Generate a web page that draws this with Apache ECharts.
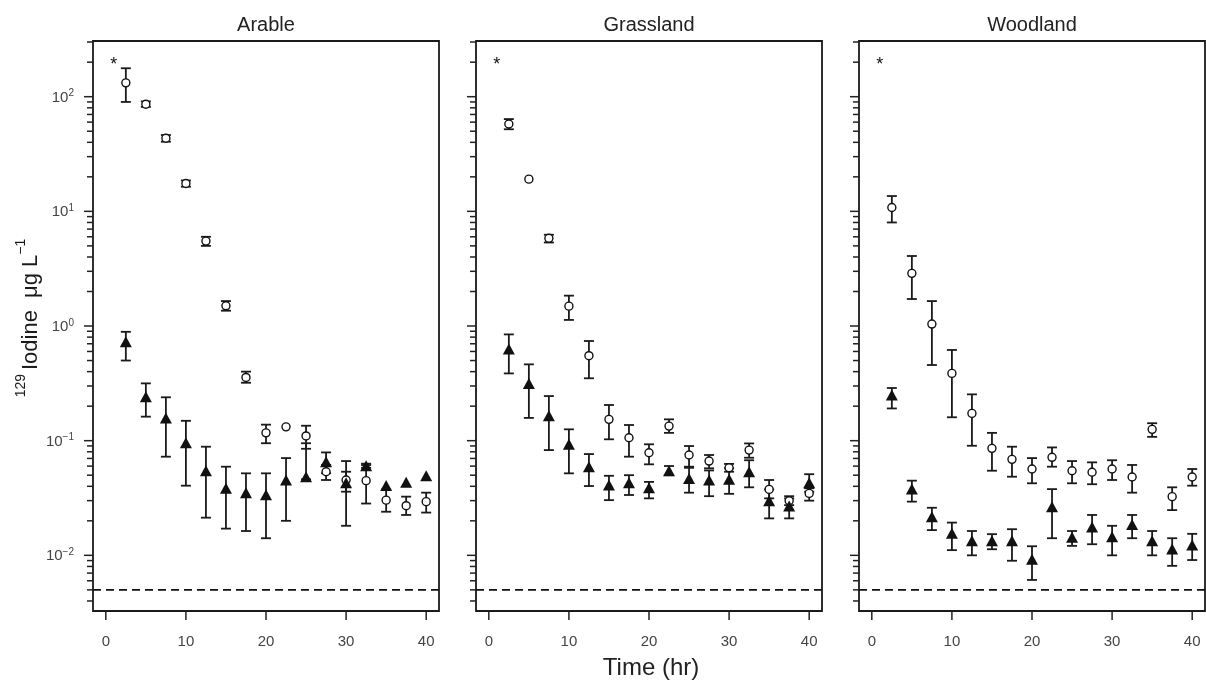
<!DOCTYPE html>
<html>
<head>
<meta charset="utf-8">
<script src="https://cdn.jsdelivr.net/npm/echarts@6/dist/echarts.min.js"></script>
<style>
html, body { margin: 0; padding: 0; background: #fff; }
#main { width: 1206px; height: 682px; }
</style>
</head>
<body>
<div id="main"></div>
<script>
// sampling times (hr)
var hours = [2.5, 5, 7.5, 10, 12.5, 15, 17.5, 20, 22.5, 25, 27.5, 30, 32.5, 35, 37.5, 40];
var panelNames = ['Arable', 'Grassland', 'Woodland'];

// open circles
var arableCircle     = [132, 86, 43.4, 17.5, 5.5, 1.5, 0.356, 0.117, 0.132, 0.110, 0.0536, 0.0454, 0.0448, 0.0303, 0.0271, 0.0294];
var arableCircleLow  = [90, 81.5, 40.5, 16.4, 5.0, 1.36, 0.32, 0.095, 0.132, 0.085, 0.0454, 0.0359, 0.0283, 0.024, 0.0225, 0.0236];
var arableCircleHigh = [177, 91, 46.3, 18.6, 6.0, 1.65, 0.40, 0.138, 0.132, 0.135, 0.0614, 0.0536, 0.0613, 0.0376, 0.0325, 0.0352];
// filled triangles
var arableTri     = [0.73, 0.242, 0.158, 0.096, 0.0547, 0.0384, 0.0352, 0.0338, 0.0454, 0.0485, 0.0655, 0.043, 0.0604, 0.0407, 0.0433, 0.0494];
var arableTriLow  = [0.50, 0.162, 0.0725, 0.0405, 0.0213, 0.0171, 0.0163, 0.0141, 0.0200, 0.046, 0.052, 0.0181, 0.058, 0.0407, 0.0433, 0.0494];
var arableTriHigh = [0.89, 0.316, 0.239, 0.149, 0.0886, 0.0593, 0.0519, 0.0519, 0.0705, 0.095, 0.079, 0.0664, 0.063, 0.0407, 0.0433, 0.0494];

var grassCircle     = [57.8, 19.1, 5.82, 1.49, 0.551, 0.1535, 0.106, 0.0785, 0.134, 0.075, 0.0664, 0.058, 0.0828, 0.0376, 0.0299, 0.0347];
var grassCircleLow  = [52, 19.1, 5.35, 1.13, 0.35, 0.1028, 0.0725, 0.0622, 0.117, 0.0593, 0.0574, 0.0536, 0.071, 0.0314, 0.0274, 0.030];
var grassCircleHigh = [63.8, 19.1, 6.25, 1.84, 0.74, 0.2047, 0.137, 0.093, 0.1535, 0.0898, 0.075, 0.0627, 0.0946, 0.0454, 0.0328, 0.0385];
var grassTri     = [0.630, 0.316, 0.165, 0.093, 0.0593, 0.041, 0.043, 0.0389, 0.0547, 0.0469, 0.0454, 0.0462, 0.0536, 0.0299, 0.0269, 0.043];
var grassTriLow  = [0.386, 0.158, 0.0828, 0.0519, 0.0402, 0.0303, 0.0336, 0.0314, 0.050, 0.0352, 0.0328, 0.0344, 0.0392, 0.021, 0.021, 0.0359];
var grassTriHigh = [0.845, 0.463, 0.245, 0.1256, 0.0764, 0.0494, 0.050, 0.0437, 0.0601, 0.058, 0.055, 0.0574, 0.0675, 0.0376, 0.0314, 0.051];

var woodCircle     = [10.8, 2.88, 1.04, 0.386, 0.173, 0.0857, 0.0687, 0.0566, 0.0716, 0.0547, 0.0530, 0.0566, 0.0482, 0.1256, 0.0325, 0.0482];
var woodCircleLow  = [8.0, 1.72, 0.457, 0.16, 0.0903, 0.0547, 0.0485, 0.0425, 0.0593, 0.0425, 0.0417, 0.0454, 0.0352, 0.108, 0.0248, 0.0405];
var woodCircleHigh = [13.6, 4.08, 1.65, 0.618, 0.2535, 0.117, 0.0886, 0.0705, 0.0873, 0.0664, 0.0647, 0.0675, 0.0614, 0.142, 0.0392, 0.0566];
var woodTri     = [0.250, 0.0378, 0.0217, 0.01556, 0.0134, 0.0134, 0.0134, 0.00923, 0.0265, 0.01435, 0.0177, 0.0145, 0.0186, 0.0134, 0.01135, 0.0123];
var woodTriLow  = [0.191, 0.0294, 0.0166, 0.0111, 0.010, 0.0113, 0.00897, 0.0061, 0.0141, 0.0121, 0.0125, 0.010, 0.0141, 0.010, 0.0081, 0.0091];
var woodTriHigh = [0.288, 0.0448, 0.026, 0.0193, 0.0163, 0.0153, 0.0169, 0.0120, 0.0378, 0.0163, 0.0225, 0.0181, 0.0225, 0.0163, 0.0141, 0.0154];

// the "*" mark and the dashed limit line
var asteriskPoint = [1, 200];
var detectionLimit = 0.005;

// axis ticks / labels
var xTicks = [0, 10, 20, 30, 40];
var yMajor = [0.01, 0.1, 1, 10, 100];
var yMajorExp = ['\u22122', '\u22121', '0', '1', '2'];

var FONT = '"Liberation Sans", Arial, Helvetica, sans-serif';
var X_MIN = -1.6, X_MAX = 41.6, Y_MIN = 0.00327, Y_MAX = 306;
var gridLefts = [93, 476, 859];
var GRID_W = 346, GRID_TOP = 41, GRID_H = 570;

var panelData = [
    { circ: [arableCircle, arableCircleLow, arableCircleHigh], tri: [arableTri, arableTriLow, arableTriHigh] },
    { circ: [grassCircle, grassCircleLow, grassCircleHigh], tri: [grassTri, grassTriLow, grassTriHigh] },
    { circ: [woodCircle, woodCircleLow, woodCircleHigh], tri: [woodTri, woodTriLow, woodTriHigh] }
];

// minor + major y ticks: 1..9 x 10^k inside the range
var yTickValues = [];
for (var k = -3; k <= 2; k++) {
    for (var m = 1; m <= 9; m++) {
        var v = m * Math.pow(10, k);
        if (v >= Y_MIN && v <= Y_MAX) yTickValues.push(v);
    }
}

var myChart = echarts.init(document.getElementById('main'));

function renderErr(params, api) {
    var x = api.value(0);
    var lo = api.coord([x, api.value(1)]);
    var hi = api.coord([x, api.value(2)]);
    if (Math.abs(lo[1] - hi[1]) < 1.5) return null;
    var st = { stroke: '#1a1a1a', lineWidth: 1.8 };
    return {
        type: 'group',
        children: [
            { type: 'line', shape: { x1: lo[0], y1: lo[1], x2: hi[0], y2: hi[1] }, style: st },
            { type: 'line', shape: { x1: lo[0] - 5, y1: lo[1], x2: lo[0] + 5, y2: lo[1] }, style: st },
            { type: 'line', shape: { x1: hi[0] - 5, y1: hi[1], x2: hi[0] + 5, y2: hi[1] }, style: st }
        ]
    };
}

// dashed horizontal line across the panel
function renderLimit(params, api) {
    var a = api.coord([X_MIN, api.value(1)]);
    var b = api.coord([X_MAX, api.value(1)]);
    return {
        type: 'line',
        shape: { x1: a[0], y1: a[1], x2: b[0], y2: b[1] },
        style: { stroke: '#111', lineWidth: 1.6, lineDash: [8, 5] }
    };
}

function renderYTick(params, api) {
    var v = api.value(1);
    var p = api.coord([X_MIN, v]);
    var e = Math.log(v) / Math.LN10;
    var major = Math.abs(e - Math.round(e)) < 1e-6;
    var len = major ? 9 : 6;
    return { type: 'line', shape: { x1: p[0] - len, y1: p[1], x2: p[0], y2: p[1] }, style: { stroke: '#222', lineWidth: 1.5 } };
}

function renderYLabel(params, api) {
    var p = api.coord([X_MIN, api.value(1)]);
    return {
        type: 'text',
        style: {
            text: '{b|10}{s|' + yMajorExp[params.dataIndex] + '}',
            x: p[0] - 19, y: p[1] + 1,
            align: 'right', verticalAlign: 'middle',
            rich: {
                b: { fontSize: 15, lineHeight: 18, fontFamily: FONT, fill: '#444' },
                s: { fontSize: 10, lineHeight: 10, verticalAlign: 'top', fontFamily: FONT, fill: '#444' }
            }
        }
    };
}

function renderXTick(params, api) {
    var p = api.coord([api.value(0), Y_MIN]);
    return {
        type: 'group',
        children: [
            { type: 'line', shape: { x1: p[0], y1: p[1], x2: p[0], y2: p[1] + 9 }, style: { stroke: '#222', lineWidth: 1.5 } },
            { type: 'text', style: { text: String(api.value(0)), x: p[0], y: p[1] + 31, align: 'center', verticalAlign: 'middle', fontSize: 15, fontFamily: FONT, fill: '#444' } }
        ]
    };
}

function renderStar(params, api) {
    var p = api.coord([api.value(0), api.value(1)]);
    return { type: 'text', style: { text: '*', x: p[0], y: p[1] + 3, align: 'center', verticalAlign: 'middle', fontSize: 18, fontFamily: FONT, fill: '#111' } };
}

function zip(a, b, c) {
    return a.map(function (v, i) { return c ? [v, b[i], c[i]] : [v, b[i]]; });
}

var grids = [], xAxes = [], yAxes = [], series = [], graphics = [];

panelNames.forEach(function (name, i) {
    grids.push({
        left: gridLefts[i], top: GRID_TOP, width: GRID_W, height: GRID_H,
        show: true, borderColor: '#1a1a1a', borderWidth: 1.8, backgroundColor: 'transparent'
    });
    xAxes.push({ gridIndex: i, type: 'value', min: X_MIN, max: X_MAX, show: false });
    yAxes.push({ gridIndex: i, type: 'log', logBase: 10, min: Y_MIN, max: Y_MAX, show: false });

    var d = panelData[i];
    series.push({
        type: 'custom', xAxisIndex: i, yAxisIndex: i, silent: true,
        renderItem: renderLimit, data: [[X_MIN, detectionLimit]]
    });
    series.push({
        type: 'custom', xAxisIndex: i, yAxisIndex: i, silent: true,
        renderItem: renderErr, data: zip(hours, d.circ[1], d.circ[2])
    });
    series.push({
        type: 'custom', xAxisIndex: i, yAxisIndex: i, silent: true,
        renderItem: renderErr, data: zip(hours, d.tri[1], d.tri[2])
    });
    series.push({
        type: 'scatter', xAxisIndex: i, yAxisIndex: i, silent: true,
        symbol: 'circle', symbolSize: 8,
        itemStyle: { color: '#fff', borderColor: '#111', borderWidth: 1.4, opacity: 1 },
        data: zip(hours, d.circ[0])
    });
    series.push({
        type: 'scatter', xAxisIndex: i, yAxisIndex: i, silent: true,
        symbol: 'triangle', symbolSize: [12, 11],
        itemStyle: { color: '#111', opacity: 1 },
        data: zip(hours, d.tri[0])
    });
    // axis ticks and labels
    series.push({
        type: 'custom', xAxisIndex: i, yAxisIndex: i, silent: true,
        renderItem: renderYTick,
        data: yTickValues.map(function (v) { return [X_MIN, v]; })
    });
    if (i === 0) {
        series.push({
            type: 'custom', xAxisIndex: i, yAxisIndex: i, silent: true,
            renderItem: renderYLabel,
            data: yMajor.map(function (v) { return [X_MIN, v]; })
        });
    }
    series.push({
        type: 'custom', xAxisIndex: i, yAxisIndex: i, silent: true,
        renderItem: renderXTick,
        data: xTicks.map(function (v) { return [v, Y_MIN]; })
    });
    series.push({
        type: 'custom', xAxisIndex: i, yAxisIndex: i, silent: true,
        renderItem: renderStar, data: [asteriskPoint]
    });

    graphics.push({
        type: 'text', x: gridLefts[i] + GRID_W / 2, y: 25,
        style: { text: name, align: 'center', verticalAlign: 'middle', fontSize: 20, fontFamily: FONT, fill: '#222' }
    });
});

graphics.push({
    type: 'text', x: 651, y: 668,
    style: { text: 'Time (hr)', align: 'center', verticalAlign: 'middle', fontSize: 24, fontFamily: FONT, fill: '#222' }
});
graphics.push({
    type: 'text', x: 31, y: 318, rotation: Math.PI / 2,
    style: {
        text: '{s|129}{g| }{m|Iodine  \u03bcg L}{s|\u22121}',
        align: 'center', verticalAlign: 'middle',
        rich: {
            m: { fontSize: 22, lineHeight: 34, fontFamily: FONT, fill: '#1a1a1a' },
            g: { fontSize: 14, lineHeight: 34, fontFamily: FONT, fill: '#1a1a1a' },
            s: { fontSize: 14, lineHeight: 10, verticalAlign: 'top', fontFamily: FONT, fill: '#1a1a1a' }
        }
    }
});

option = {
    backgroundColor: '#fff',
    animation: false,
    grid: grids,
    xAxis: xAxes,
    yAxis: yAxes,
    series: series,
    graphic: graphics
};

myChart.setOption(option);
</script>
</body>
</html>
